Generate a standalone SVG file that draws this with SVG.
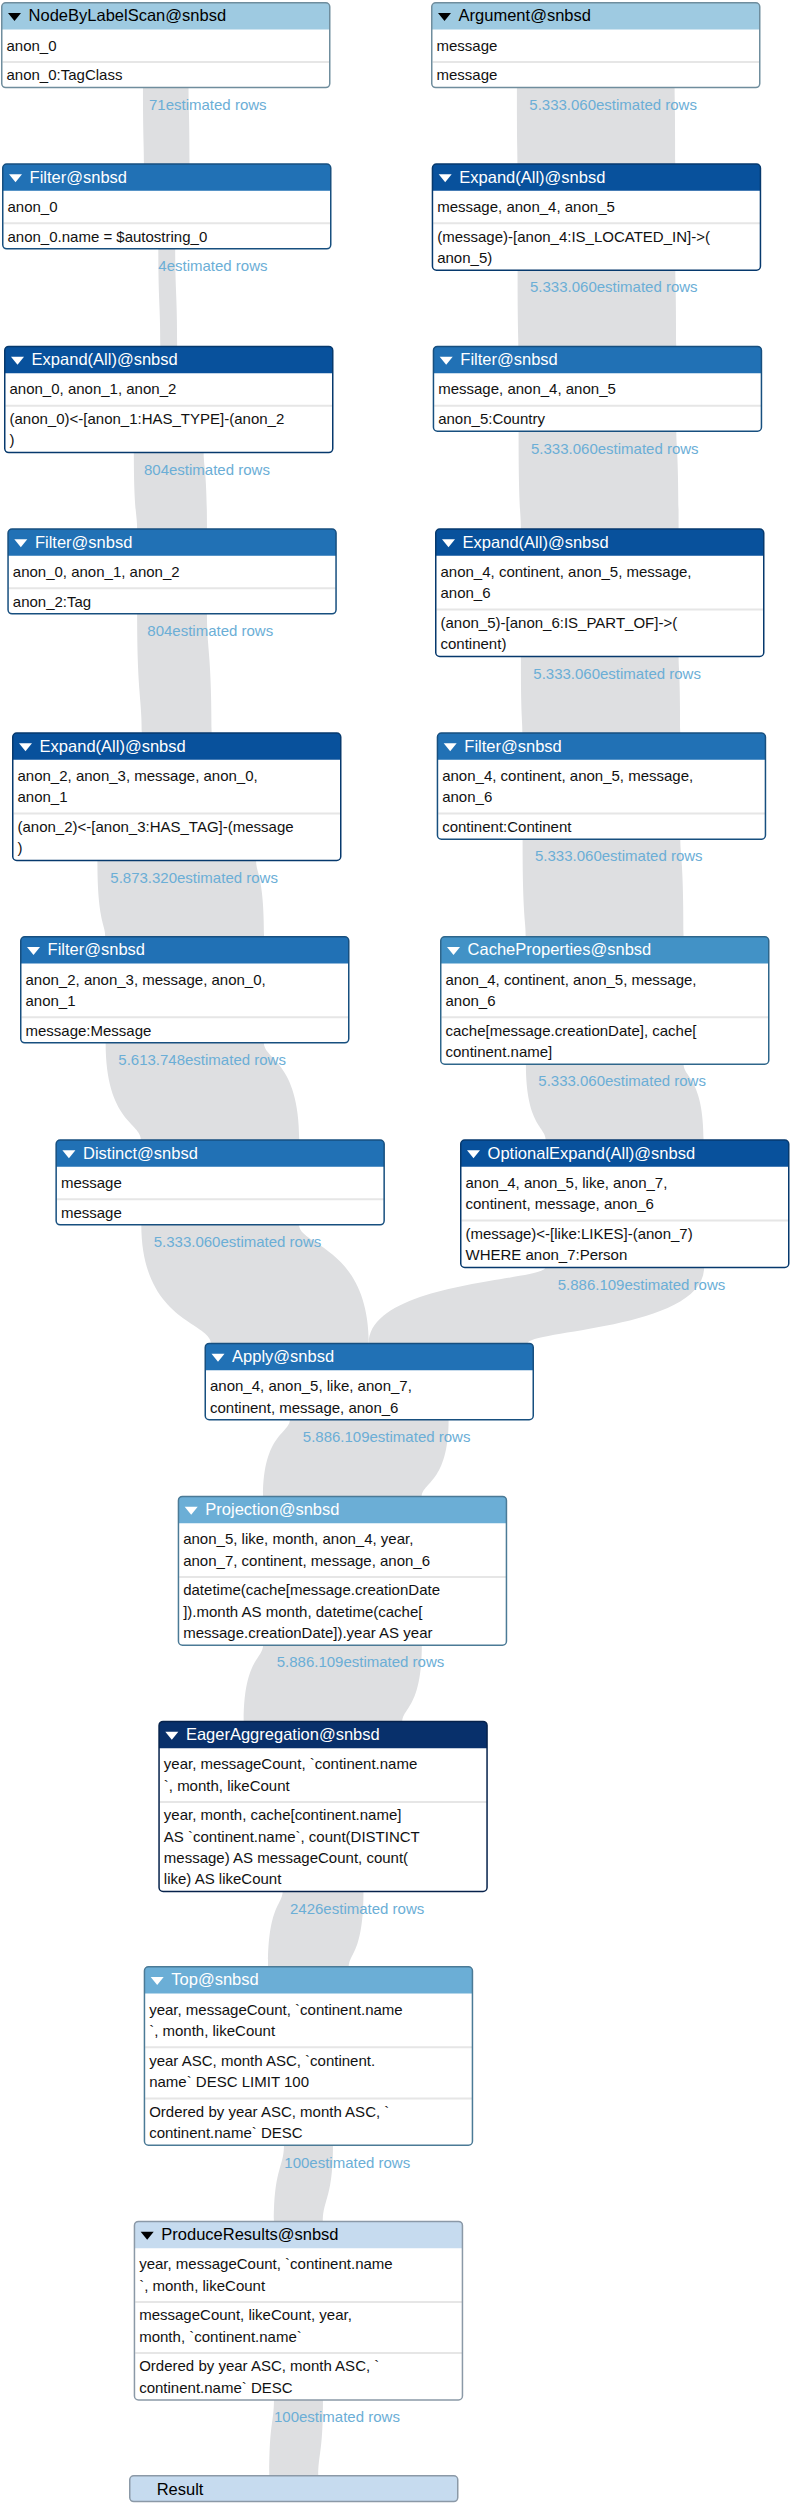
<svg xmlns="http://www.w3.org/2000/svg" xmlns:xlink="http://www.w3.org/1999/xlink" width="790" height="2504" viewBox="0 0 790 2504">
<defs>
<style>
.band{fill:#dedfe1}
.est{font-family:"Liberation Sans",Arial,sans-serif;font-size:15px;fill:#6baed6}
.box{fill:#fff;stroke-width:1.5}
.frame{fill:none;stroke-width:1.5}
.title{font-family:"Liberation Sans",Arial,sans-serif;font-size:16.5px;fill:#fff}
.txt{font-family:"Liberation Sans",Arial,sans-serif;font-size:15px;fill:#111}
.sep{stroke:#e6e6e6;stroke-width:2}
.tri{fill:#fff}
.k-scan .hd{fill:#9ecae1}.k-scan .frame{stroke:#6f8d9d}.k-scan .title,.k-scan .tri{fill:#000}
.k-filter .hd{fill:#2171b5}.k-filter .frame{stroke:#174f7f}
.k-expand .hd{fill:#08519c}.k-expand .frame{stroke:#06396d}
.k-cache .hd{fill:#4292c6}.k-cache .frame{stroke:#2e668b}
.k-proj .hd{fill:#6baed6}.k-proj .frame{stroke:#4b7a96}
.k-agg .hd{fill:#08306b}.k-agg .frame{stroke:#06224b}
.k-res .hd{fill:#c6dbef}.k-res .frame{stroke:#8b99a7}.k-res .title,.k-res .tri{fill:#000}
</style>
<path id="tri" d="M7,11 H20 L13.5,19 Z"/>
</defs>
<rect width="790" height="2504" fill="#fff"/>

<g id="connectors">
<path class="band" d="M 188.54,87.3 C 188.54,111.29 189.54,111.29 189.54,164.3 L 143.96,164.3 C 143.96,140.31 142.96,140.31 142.96,87.3 Z"/>
<path class="band" d="M 175.18,248.6 C 175.18,292.29 177.17,292.29 177.17,346.7 L 160.32,346.7 C 160.32,303.01 158.32,303.01 158.32,248.6 Z"/>
<path class="band" d="M 203.66,452.3 C 203.66,468.58 206.96,468.58 206.96,529.3 L 137.14,529.3 C 137.14,513.02 133.84,513.02 133.84,452.3 Z"/>
<path class="band" d="M 206.96,613.6 C 206.96,651.23 211.66,651.23 211.66,733.3 L 141.84,733.3 C 141.84,695.67 137.14,695.67 137.14,613.6 Z"/>
<path class="band" d="M 256.09,860.2 C 256.09,874.15 264.09,874.15 264.09,937 L 105.41,937 C 105.41,923.05 97.41,923.05 97.41,860.2 Z"/>
<path class="band" d="M 263.87,1042.6 C 263.87,1060.35 299.26,1060.35 299.26,1140.3 L 141.03,1140.3 C 141.03,1122.55 105.63,1122.55 105.63,1042.6 Z"/>
<path class="band" d="M 299.01,1224.6 C 299.01,1246.24 368.75,1246.24 368.75,1343.7 L 211.03,1343.7 C 211.03,1322.06 141.29,1322.06 141.29,1224.6 Z"/>
<path class="band" d="M 674.61,87.3 C 674.61,101.29 675.31,101.29 675.31,164.3 L 517.59,164.3 C 517.59,150.31 516.89,150.31 516.89,87.3 Z"/>
<path class="band" d="M 675.31,269.9 C 675.31,283.85 676.31,283.85 676.31,346.7 L 518.59,346.7 C 518.59,332.75 517.59,332.75 517.59,269.9 Z"/>
<path class="band" d="M 676.31,431 C 676.31,448.86 678.61,448.86 678.61,529.3 L 520.89,529.3 C 520.89,511.44 518.59,511.44 518.59,431 Z"/>
<path class="band" d="M 678.61,656.2 C 678.61,670.21 680.31,670.21 680.31,733.3 L 522.59,733.3 C 522.59,719.29 520.89,719.29 520.89,656.2 Z"/>
<path class="band" d="M 680.31,838.9 C 680.31,856.72 683.61,856.72 683.61,937 L 525.89,937 C 525.89,919.18 522.59,919.18 522.59,838.9 Z"/>
<path class="band" d="M 683.61,1063.9 C 683.61,1077.78 703.61,1077.78 703.61,1140.3 L 545.89,1140.3 C 545.89,1126.42 525.89,1126.42 525.89,1063.9 Z"/>
<path class="band" d="M 704.11,1267.2 C 704.11,1329.8 527.46,1329.8 527.46,1343.7 L 368.75,1343.7 C 368.75,1281.1 545.39,1281.1 545.39,1267.2 Z"/>
<path class="band" d="M 448.61,1419.5 C 448.61,1482.67 421.81,1482.67 421.81,1496.7 L 263.09,1496.7 C 263.09,1433.53 289.89,1433.53 289.89,1419.5 Z"/>
<path class="band" d="M 421.81,1644.9 C 421.81,1707.75 402.41,1707.75 402.41,1721.7 L 243.69,1721.7 C 243.69,1658.85 263.09,1658.85 263.09,1644.9 Z"/>
<path class="band" d="M 363.48,1891.2 C 363.48,1953.23 348.87,1953.23 348.87,1967 L 268.02,1967 C 268.02,1904.97 282.62,1904.97 282.62,1891.2 Z"/>
<path class="band" d="M 332.95,2145 C 332.95,2198.95 322.95,2198.95 322.95,2221.7 L 273.95,2221.7 C 273.95,2167.75 283.95,2167.75 283.95,2145 Z"/>
<path class="band" d="M 322.95,2399.7 C 322.95,2453.45 318.25,2453.45 318.25,2476 L 269.25,2476 C 269.25,2422.25 273.95,2422.25 273.95,2399.7 Z"/>
<text class="est" x="149" y="109.8">71estimated rows</text>
<text class="est" x="158.3" y="271.1">4estimated rows</text>
<text class="est" x="144" y="474.8">804estimated rows</text>
<text class="est" x="147.3" y="636.1">804estimated rows</text>
<text class="est" x="110.3" y="882.7">5.873.320estimated rows</text>
<text class="est" x="118.3" y="1065.1">5.613.748estimated rows</text>
<text class="est" x="153.7" y="1247.1">5.333.060estimated rows</text>
<text class="est" x="529.3" y="109.8">5.333.060estimated rows</text>
<text class="est" x="530" y="292.4">5.333.060estimated rows</text>
<text class="est" x="531" y="453.5">5.333.060estimated rows</text>
<text class="est" x="533.3" y="678.7">5.333.060estimated rows</text>
<text class="est" x="535" y="861.4">5.333.060estimated rows</text>
<text class="est" x="538.3" y="1086.4">5.333.060estimated rows</text>
<text class="est" x="557.7" y="1289.7">5.886.109estimated rows</text>
<text class="est" x="302.8" y="1442">5.886.109estimated rows</text>
<text class="est" x="276.7" y="1667.4">5.886.109estimated rows</text>
<text class="est" x="290" y="1913.7">2426estimated rows</text>
<text class="est" x="284.3" y="2167.5">100estimated rows</text>
<text class="est" x="274" y="2422.2">100estimated rows</text>
</g>

<g id="n-nodebylabelscan" class="k-scan">
<rect class="box" x="1.75" y="2.75" width="328" height="84.8" rx="4"/>
<path class="hd" d="M1.75,29.5 v-22.75 a4,4 0 0 1 4,-4 h320 a4,4 0 0 1 4,4 v22.75 z"/>
<use xlink:href="#tri" class="tri" x="1" y="2"/>
<text class="title" x="28.6" y="21.4">NodeByLabelScan@snbsd</text>
<text class="txt" x="6.5" y="50.5">anon_0</text>
<line class="sep" x1="2.5" y1="62" x2="329.5" y2="62"/>
<text class="txt" x="6.5" y="80.3">anon_0:TagClass</text>
<rect class="frame" x="1.75" y="2.75" width="328" height="84.8" rx="4"/>
</g>

<g id="n-filter-1" class="k-filter">
<rect class="box" x="2.75" y="164.05" width="328" height="84.8" rx="4"/>
<path class="hd" d="M2.75,190.8 v-22.75 a4,4 0 0 1 4,-4 h320 a4,4 0 0 1 4,4 v22.75 z"/>
<use xlink:href="#tri" class="tri" x="2" y="163.3"/>
<text class="title" x="29.6" y="182.7">Filter@snbsd</text>
<text class="txt" x="7.5" y="211.8">anon_0</text>
<line class="sep" x1="3.5" y1="223.3" x2="330.5" y2="223.3"/>
<text class="txt" x="7.5" y="241.6">anon_0.name = $autostring_0</text>
<rect class="frame" x="2.75" y="164.05" width="328" height="84.8" rx="4"/>
</g>

<g id="n-expand-1" class="k-expand">
<rect class="box" x="4.75" y="346.45" width="328" height="106.1" rx="4"/>
<path class="hd" d="M4.75,373.2 v-22.75 a4,4 0 0 1 4,-4 h320 a4,4 0 0 1 4,4 v22.75 z"/>
<use xlink:href="#tri" class="tri" x="4" y="345.7"/>
<text class="title" x="31.6" y="365.1">Expand(All)@snbsd</text>
<text class="txt" x="9.5" y="394.2">anon_0, anon_1, anon_2</text>
<line class="sep" x1="5.5" y1="405.7" x2="332.5" y2="405.7"/>
<text class="txt" x="9.5" y="424">(anon_0)&lt;-[anon_1:HAS_TYPE]-(anon_2</text>
<text class="txt" x="9.5" y="445.3">)</text>
<rect class="frame" x="4.75" y="346.45" width="328" height="106.1" rx="4"/>
</g>

<g id="n-filter-2" class="k-filter">
<rect class="box" x="8.05" y="529.05" width="328" height="84.8" rx="4"/>
<path class="hd" d="M8.05,555.8 v-22.75 a4,4 0 0 1 4,-4 h320 a4,4 0 0 1 4,4 v22.75 z"/>
<use xlink:href="#tri" class="tri" x="7.3" y="528.3"/>
<text class="title" x="34.9" y="547.7">Filter@snbsd</text>
<text class="txt" x="12.8" y="576.8">anon_0, anon_1, anon_2</text>
<line class="sep" x1="8.8" y1="588.3" x2="335.8" y2="588.3"/>
<text class="txt" x="12.8" y="606.6">anon_2:Tag</text>
<rect class="frame" x="8.05" y="529.05" width="328" height="84.8" rx="4"/>
</g>

<g id="n-expand-2" class="k-expand">
<rect class="box" x="12.75" y="733.05" width="328" height="127.4" rx="4"/>
<path class="hd" d="M12.75,759.8 v-22.75 a4,4 0 0 1 4,-4 h320 a4,4 0 0 1 4,4 v22.75 z"/>
<use xlink:href="#tri" class="tri" x="12" y="732.3"/>
<text class="title" x="39.6" y="751.7">Expand(All)@snbsd</text>
<text class="txt" x="17.5" y="780.8">anon_2, anon_3, message, anon_0,</text>
<text class="txt" x="17.5" y="802.1">anon_1</text>
<line class="sep" x1="13.5" y1="813.6" x2="340.5" y2="813.6"/>
<text class="txt" x="17.5" y="831.9">(anon_2)&lt;-[anon_3:HAS_TAG]-(message</text>
<text class="txt" x="17.5" y="853.2">)</text>
<rect class="frame" x="12.75" y="733.05" width="328" height="127.4" rx="4"/>
</g>

<g id="n-filter-3" class="k-filter">
<rect class="box" x="20.75" y="936.75" width="328" height="106.1" rx="4"/>
<path class="hd" d="M20.75,963.5 v-22.75 a4,4 0 0 1 4,-4 h320 a4,4 0 0 1 4,4 v22.75 z"/>
<use xlink:href="#tri" class="tri" x="20" y="936"/>
<text class="title" x="47.6" y="955.4">Filter@snbsd</text>
<text class="txt" x="25.5" y="984.5">anon_2, anon_3, message, anon_0,</text>
<text class="txt" x="25.5" y="1005.8">anon_1</text>
<line class="sep" x1="21.5" y1="1017.3" x2="348.5" y2="1017.3"/>
<text class="txt" x="25.5" y="1035.6">message:Message</text>
<rect class="frame" x="20.75" y="936.75" width="328" height="106.1" rx="4"/>
</g>

<g id="n-distinct" class="k-filter">
<rect class="box" x="56.15" y="1140.05" width="328" height="84.8" rx="4"/>
<path class="hd" d="M56.15,1166.8 v-22.75 a4,4 0 0 1 4,-4 h320 a4,4 0 0 1 4,4 v22.75 z"/>
<use xlink:href="#tri" class="tri" x="55.4" y="1139.3"/>
<text class="title" x="83" y="1158.7">Distinct@snbsd</text>
<text class="txt" x="60.9" y="1187.8">message</text>
<line class="sep" x1="56.9" y1="1199.3" x2="383.9" y2="1199.3"/>
<text class="txt" x="60.9" y="1217.6">message</text>
<rect class="frame" x="56.15" y="1140.05" width="328" height="84.8" rx="4"/>
</g>

<g id="n-argument" class="k-scan">
<rect class="box" x="431.75" y="2.75" width="328" height="84.8" rx="4"/>
<path class="hd" d="M431.75,29.5 v-22.75 a4,4 0 0 1 4,-4 h320 a4,4 0 0 1 4,4 v22.75 z"/>
<use xlink:href="#tri" class="tri" x="431" y="2"/>
<text class="title" x="458.6" y="21.4">Argument@snbsd</text>
<text class="txt" x="436.5" y="50.5">message</text>
<line class="sep" x1="432.5" y1="62" x2="759.5" y2="62"/>
<text class="txt" x="436.5" y="80.3">message</text>
<rect class="frame" x="431.75" y="2.75" width="328" height="84.8" rx="4"/>
</g>

<g id="n-expand-3" class="k-expand">
<rect class="box" x="432.45" y="164.05" width="328" height="106.1" rx="4"/>
<path class="hd" d="M432.45,190.8 v-22.75 a4,4 0 0 1 4,-4 h320 a4,4 0 0 1 4,4 v22.75 z"/>
<use xlink:href="#tri" class="tri" x="431.7" y="163.3"/>
<text class="title" x="459.3" y="182.7">Expand(All)@snbsd</text>
<text class="txt" x="437.2" y="211.8">message, anon_4, anon_5</text>
<line class="sep" x1="433.2" y1="223.3" x2="760.2" y2="223.3"/>
<text class="txt" x="437.2" y="241.6">(message)-[anon_4:IS_LOCATED_IN]-&gt;(</text>
<text class="txt" x="437.2" y="262.9">anon_5)</text>
<rect class="frame" x="432.45" y="164.05" width="328" height="106.1" rx="4"/>
</g>

<g id="n-filter-4" class="k-filter">
<rect class="box" x="433.45" y="346.45" width="328" height="84.8" rx="4"/>
<path class="hd" d="M433.45,373.2 v-22.75 a4,4 0 0 1 4,-4 h320 a4,4 0 0 1 4,4 v22.75 z"/>
<use xlink:href="#tri" class="tri" x="432.7" y="345.7"/>
<text class="title" x="460.3" y="365.1">Filter@snbsd</text>
<text class="txt" x="438.2" y="394.2">message, anon_4, anon_5</text>
<line class="sep" x1="434.2" y1="405.7" x2="761.2" y2="405.7"/>
<text class="txt" x="438.2" y="424">anon_5:Country</text>
<rect class="frame" x="433.45" y="346.45" width="328" height="84.8" rx="4"/>
</g>

<g id="n-expand-4" class="k-expand">
<rect class="box" x="435.75" y="529.05" width="328" height="127.4" rx="4"/>
<path class="hd" d="M435.75,555.8 v-22.75 a4,4 0 0 1 4,-4 h320 a4,4 0 0 1 4,4 v22.75 z"/>
<use xlink:href="#tri" class="tri" x="435" y="528.3"/>
<text class="title" x="462.6" y="547.7">Expand(All)@snbsd</text>
<text class="txt" x="440.5" y="576.8">anon_4, continent, anon_5, message,</text>
<text class="txt" x="440.5" y="598.1">anon_6</text>
<line class="sep" x1="436.5" y1="609.6" x2="763.5" y2="609.6"/>
<text class="txt" x="440.5" y="627.9">(anon_5)-[anon_6:IS_PART_OF]-&gt;(</text>
<text class="txt" x="440.5" y="649.2">continent)</text>
<rect class="frame" x="435.75" y="529.05" width="328" height="127.4" rx="4"/>
</g>

<g id="n-filter-5" class="k-filter">
<rect class="box" x="437.45" y="733.05" width="328" height="106.1" rx="4"/>
<path class="hd" d="M437.45,759.8 v-22.75 a4,4 0 0 1 4,-4 h320 a4,4 0 0 1 4,4 v22.75 z"/>
<use xlink:href="#tri" class="tri" x="436.7" y="732.3"/>
<text class="title" x="464.3" y="751.7">Filter@snbsd</text>
<text class="txt" x="442.2" y="780.8">anon_4, continent, anon_5, message,</text>
<text class="txt" x="442.2" y="802.1">anon_6</text>
<line class="sep" x1="438.2" y1="813.6" x2="765.2" y2="813.6"/>
<text class="txt" x="442.2" y="831.9">continent:Continent</text>
<rect class="frame" x="437.45" y="733.05" width="328" height="106.1" rx="4"/>
</g>

<g id="n-cacheproperties" class="k-cache">
<rect class="box" x="440.75" y="936.75" width="328" height="127.4" rx="4"/>
<path class="hd" d="M440.75,963.5 v-22.75 a4,4 0 0 1 4,-4 h320 a4,4 0 0 1 4,4 v22.75 z"/>
<use xlink:href="#tri" class="tri" x="440" y="936"/>
<text class="title" x="467.6" y="955.4">CacheProperties@snbsd</text>
<text class="txt" x="445.5" y="984.5">anon_4, continent, anon_5, message,</text>
<text class="txt" x="445.5" y="1005.8">anon_6</text>
<line class="sep" x1="441.5" y1="1017.3" x2="768.5" y2="1017.3"/>
<text class="txt" x="445.5" y="1035.6">cache[message.creationDate], cache[</text>
<text class="txt" x="445.5" y="1056.9">continent.name]</text>
<rect class="frame" x="440.75" y="936.75" width="328" height="127.4" rx="4"/>
</g>

<g id="n-optionalexpand" class="k-expand">
<rect class="box" x="460.75" y="1140.05" width="328" height="127.4" rx="4"/>
<path class="hd" d="M460.75,1166.8 v-22.75 a4,4 0 0 1 4,-4 h320 a4,4 0 0 1 4,4 v22.75 z"/>
<use xlink:href="#tri" class="tri" x="460" y="1139.3"/>
<text class="title" x="487.6" y="1158.7">OptionalExpand(All)@snbsd</text>
<text class="txt" x="465.5" y="1187.8">anon_4, anon_5, like, anon_7,</text>
<text class="txt" x="465.5" y="1209.1">continent, message, anon_6</text>
<line class="sep" x1="461.5" y1="1220.6" x2="788.5" y2="1220.6"/>
<text class="txt" x="465.5" y="1238.9">(message)&lt;-[like:LIKES]-(anon_7)</text>
<text class="txt" x="465.5" y="1260.2">WHERE anon_7:Person</text>
<rect class="frame" x="460.75" y="1140.05" width="328" height="127.4" rx="4"/>
</g>

<g id="n-apply" class="k-filter">
<rect class="box" x="205.25" y="1343.45" width="328" height="76.3" rx="4"/>
<path class="hd" d="M205.25,1370.2 v-22.75 a4,4 0 0 1 4,-4 h320 a4,4 0 0 1 4,4 v22.75 z"/>
<use xlink:href="#tri" class="tri" x="204.5" y="1342.7"/>
<text class="title" x="232.1" y="1362.1">Apply@snbsd</text>
<text class="txt" x="210" y="1391.2">anon_4, anon_5, like, anon_7,</text>
<text class="txt" x="210" y="1412.5">continent, message, anon_6</text>
<rect class="frame" x="205.25" y="1343.45" width="328" height="76.3" rx="4"/>
</g>

<g id="n-projection" class="k-proj">
<rect class="box" x="178.45" y="1496.45" width="328" height="148.7" rx="4"/>
<path class="hd" d="M178.45,1523.2 v-22.75 a4,4 0 0 1 4,-4 h320 a4,4 0 0 1 4,4 v22.75 z"/>
<use xlink:href="#tri" class="tri" x="177.7" y="1495.7"/>
<text class="title" x="205.3" y="1515.1">Projection@snbsd</text>
<text class="txt" x="183.2" y="1544.2">anon_5, like, month, anon_4, year,</text>
<text class="txt" x="183.2" y="1565.5">anon_7, continent, message, anon_6</text>
<line class="sep" x1="179.2" y1="1577" x2="506.2" y2="1577"/>
<text class="txt" x="183.2" y="1595.3">datetime(cache[message.creationDate</text>
<text class="txt" x="183.2" y="1616.6">]).month AS month, datetime(cache[</text>
<text class="txt" x="183.2" y="1637.9">message.creationDate]).year AS year</text>
<rect class="frame" x="178.45" y="1496.45" width="328" height="148.7" rx="4"/>
</g>

<g id="n-eageraggregation" class="k-agg">
<rect class="box" x="159.05" y="1721.45" width="328" height="170" rx="4"/>
<path class="hd" d="M159.05,1748.2 v-22.75 a4,4 0 0 1 4,-4 h320 a4,4 0 0 1 4,4 v22.75 z"/>
<use xlink:href="#tri" class="tri" x="158.3" y="1720.7"/>
<text class="title" x="185.9" y="1740.1">EagerAggregation@snbsd</text>
<text class="txt" x="163.8" y="1769.2">year, messageCount, `continent.name</text>
<text class="txt" x="163.8" y="1790.5">`, month, likeCount</text>
<line class="sep" x1="159.8" y1="1802" x2="486.8" y2="1802"/>
<text class="txt" x="163.8" y="1820.3">year, month, cache[continent.name]</text>
<text class="txt" x="163.8" y="1841.6">AS `continent.name`, count(DISTINCT</text>
<text class="txt" x="163.8" y="1862.9">message) AS messageCount, count(</text>
<text class="txt" x="163.8" y="1884.2">like) AS likeCount</text>
<rect class="frame" x="159.05" y="1721.45" width="328" height="170" rx="4"/>
</g>

<g id="n-top" class="k-proj">
<rect class="box" x="144.45" y="1966.75" width="328" height="178.5" rx="4"/>
<path class="hd" d="M144.45,1993.5 v-22.75 a4,4 0 0 1 4,-4 h320 a4,4 0 0 1 4,4 v22.75 z"/>
<use xlink:href="#tri" class="tri" x="143.7" y="1966"/>
<text class="title" x="171.3" y="1985.4">Top@snbsd</text>
<text class="txt" x="149.2" y="2014.5">year, messageCount, `continent.name</text>
<text class="txt" x="149.2" y="2035.8">`, month, likeCount</text>
<line class="sep" x1="145.2" y1="2047.3" x2="472.2" y2="2047.3"/>
<text class="txt" x="149.2" y="2065.6">year ASC, month ASC, `continent.</text>
<text class="txt" x="149.2" y="2086.9">name` DESC LIMIT 100</text>
<line class="sep" x1="145.2" y1="2098.4" x2="472.2" y2="2098.4"/>
<text class="txt" x="149.2" y="2116.7">Ordered by year ASC, month ASC, `</text>
<text class="txt" x="149.2" y="2138">continent.name` DESC</text>
<rect class="frame" x="144.45" y="1966.75" width="328" height="178.5" rx="4"/>
</g>

<g id="n-produceresults" class="k-res">
<rect class="box" x="134.45" y="2221.45" width="328" height="178.5" rx="4"/>
<path class="hd" d="M134.45,2248.2 v-22.75 a4,4 0 0 1 4,-4 h320 a4,4 0 0 1 4,4 v22.75 z"/>
<use xlink:href="#tri" class="tri" x="133.7" y="2220.7"/>
<text class="title" x="161.3" y="2240.1">ProduceResults@snbsd</text>
<text class="txt" x="139.2" y="2269.2">year, messageCount, `continent.name</text>
<text class="txt" x="139.2" y="2290.5">`, month, likeCount</text>
<line class="sep" x1="135.2" y1="2302" x2="462.2" y2="2302"/>
<text class="txt" x="139.2" y="2320.3">messageCount, likeCount, year,</text>
<text class="txt" x="139.2" y="2341.6">month, `continent.name`</text>
<line class="sep" x1="135.2" y1="2353.1" x2="462.2" y2="2353.1"/>
<text class="txt" x="139.2" y="2371.4">Ordered by year ASC, month ASC, `</text>
<text class="txt" x="139.2" y="2392.7">continent.name` DESC</text>
<rect class="frame" x="134.45" y="2221.45" width="328" height="178.5" rx="4"/>
</g>

<g id="n-result" class="k-res">
<rect class="hd" x="129.75" y="2475.75" width="328" height="25.8" rx="4"/>
<text class="title" x="156.7" y="2494.5">Result</text>
<rect class="frame" x="129.75" y="2475.75" width="328" height="25.8" rx="4"/>
</g>
</svg>
